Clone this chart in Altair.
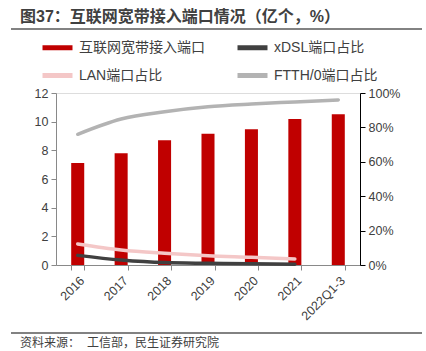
import altair as alt
import pandas as pd

categories = ["2016", "2017", "2018", "2019", "2020", "2021", "2022Q1-3"]
ports = [7.12, 7.80, 8.70, 9.16, 9.47, 10.19, 10.51]          # 亿个
xdsl_pct = [5.6, 2.9, 1.4, 1.0, 0.7, 0.5]                      # %
lan_pct = [12.2, 8.7, 6.8, 5.4, 4.5, 3.5]                      # %
ftth_pct = [76.0, 84.9, 89.1, 92.0, 93.6, 94.8, 96.0]          # %

s_bar = "互联网宽带接入端口"
s_xdsl = "xDSL端口占比"
s_lan = "LAN端口占比"
s_ftth = "FTTH/0端口占比"
series_order = [s_bar, s_xdsl, s_lan, s_ftth]
series_colors = ["#c00000", "#404040", "#f4c7c7", "#b3b3b3"]

title_text = "图37：互联网宽带接入端口情况（亿个，%）"
source_label = "资料来源："
source_text = "工信部，民生证券研究院"

FONT = "Liberation Sans, Noto Sans CJK SC, sans-serif"
TXT = "#404040"

bar_df = pd.DataFrame({"cat": categories, "value": ports, "series": s_bar})
rows = []
for name, vals in [(s_xdsl, xdsl_pct), (s_lan, lan_pct), (s_ftth, ftth_pct)]:
    for c, v in zip(categories, vals):
        rows.append({"cat": c, "pct": v, "series": name})
line_df = pd.DataFrame(rows)

xscale = alt.Scale(domain=categories, paddingInner=0.7, paddingOuter=0.35)
color = alt.Color(
    "series:N",
    scale=alt.Scale(domain=series_order, range=series_colors),
    legend=alt.Legend(
        title=None, orient="none", legendX=-16, legendY=-63, columns=2,
        direction="horizontal", values=series_order,
        symbolType="stroke", symbolStrokeWidth=5, symbolSize=900,
        labelFontSize=14, labelColor=TXT, labelFont=FONT, labelOffset=4,
        columnPadding=22, rowPadding=-11, padding=0, symbolOpacity=1,
    ),
)

xaxis = alt.Axis(
    title=None, labelAngle=-45, labelFontSize=12.5, labelColor=TXT, labelFont=FONT,
    domainColor="#898989", tickColor="#898989", tickSize=5, tickBand="extent",
    labelPadding=4,
)

bars = alt.Chart(bar_df).mark_bar(color="#c00000").encode(
    x=alt.X("cat:N", scale=xscale, sort=categories, axis=xaxis),
    y=alt.Y("value:Q", scale=alt.Scale(domain=[0, 12]),
            axis=alt.Axis(title=None, orient="left", values=[0, 2, 4, 6, 8, 10, 12],
                          labelFontSize=12.5, labelColor=TXT, labelFont=FONT,
                          domainColor="#898989", tickColor="#898989", tickSize=5,
                          grid=False, labelPadding=3)),
    color=color,
)

lines = alt.Chart(line_df).mark_line(strokeWidth=3.5, interpolate="monotone", strokeCap="round").encode(
    x=alt.X("cat:N", scale=xscale, sort=categories, axis=xaxis),
    y=alt.Y("pct:Q", scale=alt.Scale(domain=[0, 100]),
            axis=alt.Axis(title=None, orient="right", values=[0, 20, 40, 60, 80, 100],
                          labelExpr="datum.value + '%'",
                          labelFontSize=12.5, labelColor=TXT, labelFont=FONT,
                          domainColor="#000000", tickColor="#000000", tickSize=5,
                          grid=False, labelPadding=3)),
    color=color,
    detail="series:N",
)

one = pd.DataFrame({"a": [0]})
title = alt.Chart(one).mark_text(
    text=title_text, font=FONT, fontSize=16, fontWeight="bold", color=TXT,
    align="left", baseline="middle",
).encode(x=alt.value(-36), y=alt.value(-76))
top_rule = alt.Chart(one).mark_rule(color="#595959", strokeWidth=1.5).encode(
    x=alt.value(-45), x2=alt.value(366), y=alt.value(-64))
bottom_rule = alt.Chart(one).mark_rule(color="#595959", strokeWidth=1.5).encode(
    x=alt.value(-45), x2=alt.value(366), y=alt.value(240))
src1 = alt.Chart(one).mark_text(
    text=source_label, font=FONT, fontSize=12, color=TXT, align="left", baseline="middle",
).encode(x=alt.value(-36), y=alt.value(250))
src2 = alt.Chart(one).mark_text(
    text=source_text, font=FONT, fontSize=12, color=TXT, align="left", baseline="middle",
).encode(x=alt.value(31), y=alt.value(250))

chart = alt.layer(bars, lines, title, top_rule, bottom_rule, src1, src2).resolve_scale(
    y="independent"
).properties(
    width=304, height=172,
    autosize=alt.AutoSizeParams(type="none"),
    padding={"left": 56, "top": 93, "right": 66, "bottom": 86},
).configure_view(stroke=None).configure(background="white")

chart.save("out.html", embed_options={"renderer": "svg", "actions": False})
